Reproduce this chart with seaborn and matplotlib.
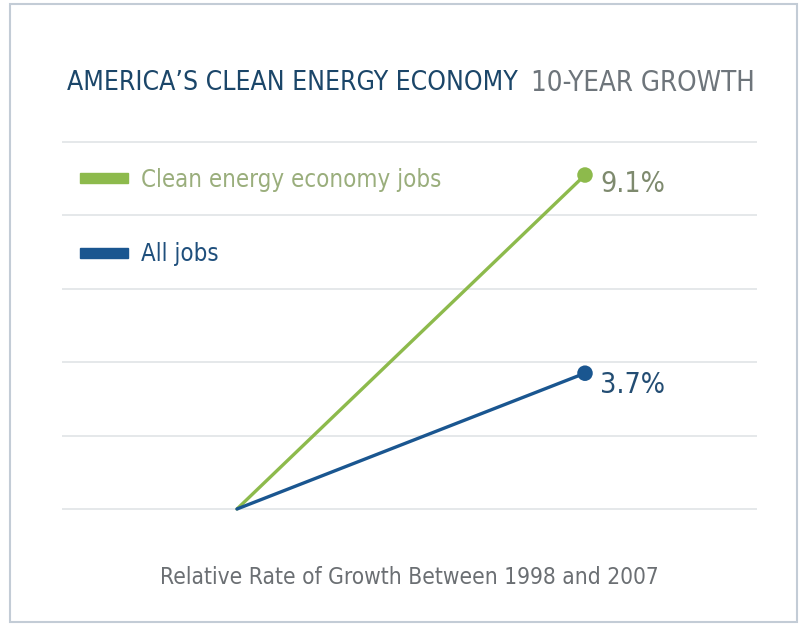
import pandas as pd
import numpy as np
import matplotlib
matplotlib.use("Agg")
import matplotlib.pyplot as plt
from matplotlib.patches import Rectangle
import seaborn as sns

# data
years = [1998, 2007]
series = ["Clean energy economy jobs", "All jobs"]
clean_growth = [0.0, 9.1]
all_growth = [0.0, 3.7]
end_labels = ["9.1%", "3.7%"]

green = "#8dba4c"
blue = "#1a5690"

sns.set_style("white")
plt.rcParams["font.family"] = ["DejaVu Sans"]
plt.rcParams["font.stretch"] = "condensed"

df = pd.DataFrame({
    "step": [0, 1, 0, 1],
    "growth": clean_growth + all_growth,
    "series": [series[0]] * 2 + [series[1]] * 2,
})

W, H = 802, 626
fig = plt.figure(figsize=(W / 100, H / 100), dpi=100)
ax = fig.add_axes([0.0773, 0.1576, 0.8666, 0.6449])

sns.lineplot(data=df, x="step", y="growth", hue="series",
             palette=[green, blue], linewidth=2.4, legend=False, ax=ax)
ends = df[df["step"] == 1]
sns.scatterplot(data=ends, x="step", y="growth", hue="series",
                palette=[green, blue], s=125, edgecolor="none",
                legend=False, ax=ax, zorder=5)

ax.set_xlim(-0.5029, 1.4943)
ax.set_ylim(-0.5, 10.5)
ax.set_yticks(np.arange(0, 11, 2))
ax.set_xticks([])
ax.yaxis.grid(True, color="#e3e6e8", linewidth=1.3)
ax.tick_params(left=False, labelleft=False)
ax.set_xlabel("")
ax.set_ylabel("")
for s in ax.spines.values():
    s.set_visible(False)


def fit(txt, width_px):
    # shrink / grow a text so it spans width_px
    fig.canvas.draw()
    w = txt.get_window_extent().width
    txt.set_fontsize(txt.get_fontsize() * width_px / w)


# end labels
l1 = fig.text(600 / W, 1 - 184 / H, end_labels[0], color="#7e8a6e", fontsize=22, va="center")
l2 = fig.text(600 / W, 1 - 385 / H, end_labels[1], color="#234d73", fontsize=22, va="center")
fit(l1, 65)
fit(l2, 65)

# legend
fig.patches.append(Rectangle((80 / W, 1 - 183 / H), 48 / W, 10 / H,
                             transform=fig.transFigure, color=green))
fig.patches.append(Rectangle((80 / W, 1 - 258 / H), 48 / W, 10 / H,
                             transform=fig.transFigure, color=blue))
g1 = fig.text(141 / W, 1 - 180 / H, series[0], color="#9aae7c", fontsize=20, va="center")
g2 = fig.text(141 / W, 1 - 254 / H, series[1], color="#1f4f7c", fontsize=20, va="center")
fit(g1, 299)
g2.set_fontsize(g1.get_fontsize())

# title
t1 = fig.text(67 / W, 1 - 83 / H, "AMERICA\u2019S CLEAN ENERGY ECONOMY", color="#1b4669",
              fontsize=25, va="center")
fit(t1, 451)
t2 = fig.text(531 / W, 1 - 83 / H, "10-YEAR GROWTH", color="#6e757b",
              fontsize=t1.get_fontsize(), va="center")
fit(t2, 224)

sub = fig.text(160 / W, 1 - 577 / H, "Relative Rate of Growth Between 1998 and 2007",
               color="#6b6f73", fontsize=15, va="center")
fit(sub, 500)

# frame
fig.patches.append(Rectangle((10 / W, 4 / H), 787 / W, 618 / H,
                             transform=fig.transFigure, fill=False,
                             edgecolor="#c3ccd6", linewidth=1.5))

fig.savefig("out.png", dpi=100)
